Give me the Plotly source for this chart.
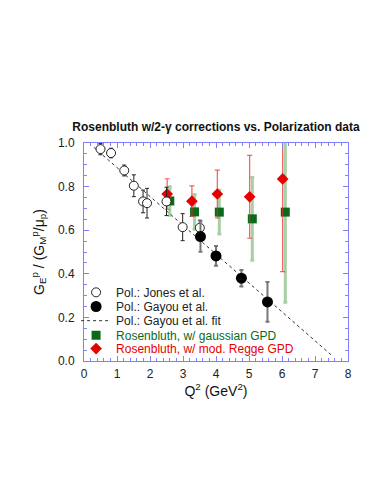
import plotly.graph_objects as go

# ---- data ----
jones_q2 = [0.50, 0.82, 1.22, 1.51, 1.79, 1.91, 2.50, 2.99, 3.51]
jones_ratio = [0.972, 0.954, 0.874, 0.804, 0.732, 0.724, 0.732, 0.614, 0.611]
jones_err = [0.026, 0.022, 0.025, 0.050, 0.052, 0.068, 0.065, 0.062, 0.035]

gayou_q2 = [3.53, 4.00, 4.77, 5.56]
gayou_ratio = [0.571, 0.482, 0.380, 0.271]
gayou_err = [0.070, 0.045, 0.038, 0.091]

fit_q2 = [0.30, 7.55]
fit_ratio = [0.980, 0.020]

gauss_q2 = [2.60, 3.35, 4.10, 5.10, 6.10]
gauss_ratio = [0.734, 0.684, 0.683, 0.652, 0.683]
gauss_err = [0.065, 0.080, 0.100, 0.190, 0.413]

regge_q2 = [2.52, 3.27, 4.04, 5.02, 6.02]
regge_ratio = [0.766, 0.733, 0.766, 0.753, 0.835]
regge_err = [0.070, 0.070, 0.110, 0.190, 0.425]

names = [
    "Pol.: Jones et al.",
    "Pol.: Gayou et al.",
    "Pol.: Gayou et al. fit",
    "<span style='color:#0a6a1a'>Rosenbluth, w/ gaussian GPD</span>",
    "<span style='color:#e60000'>Rosenbluth, w/ mod. Regge GPD</span>",
]

FONT = "Liberation Sans, Arial, sans-serif"
GREEN = "#0a6a1a"
RED = "#e60000"
AXC = "#7f7fff"

fig = go.Figure()

fig.add_trace(go.Scatter(
    x=fit_q2, y=fit_ratio, mode="lines", name=names[2], legend="legend3",
    line=dict(color="#333333", width=1, dash="3px,3px"),
))
fig.add_trace(go.Scatter(
    x=gauss_q2, y=gauss_ratio, mode="markers", name=names[3], legend="legend4",
    marker=dict(symbol="square", size=9, color=GREEN, line=dict(width=0)),
    error_y=dict(type="data", array=gauss_err, color="rgba(60,150,60,0.45)",
                 thickness=3, width=2),
))
fig.add_trace(go.Scatter(
    x=regge_q2, y=regge_ratio, mode="markers", name=names[4], legend="legend5",
    marker=dict(symbol="diamond", size=9, color=RED, line=dict(width=0)),
    error_y=dict(type="data", array=regge_err, color="rgba(235,40,40,0.75)",
                 thickness=1.2, width=2.5),
))
fig.add_trace(go.Scatter(
    x=jones_q2, y=jones_ratio, mode="markers", name=names[0], legend="legend",
    marker=dict(symbol="circle", size=9, color="white", line=dict(color="#222222", width=1)),
    error_y=dict(type="data", array=jones_err, color="#222222", thickness=1, width=2),
))
fig.add_trace(go.Scatter(
    x=gayou_q2, y=gayou_ratio, mode="markers", name=names[1], legend="legend2",
    marker=dict(symbol="circle", size=11, color="black"),
    error_y=dict(type="data", array=gayou_err, color="#777777", thickness=2, width=2),
))

leg_y = [0.315, 0.250, 0.185, 0.118, 0.057]
legends = {}
for i, key in enumerate(["legend", "legend2", "legend3", "legend4", "legend5"]):
    legends[key] = dict(
        x=-0.03, xanchor="left", y=leg_y[i], yanchor="middle",
        bgcolor="rgba(0,0,0,0)", borderwidth=0,
        font=dict(family=FONT, size=12, color="#222222"),
    )

axis_common = dict(
    showline=True, linecolor=AXC, linewidth=1, mirror="allticks",
    ticks="inside", tickcolor=AXC, ticklen=5, tickwidth=1,
    showgrid=False, zeroline=False,
    tickfont=dict(family=FONT, size=12, color="#222222"),
)

fig.update_layout(
    width=374, height=484,
    margin=dict(l=84, r=26, t=143, b=123),
    paper_bgcolor="white", plot_bgcolor="white",
    title=dict(
        text="<b>Rosenbluth w/2-γ corrections vs. Polarization data</b>",
        x=0.5, xref="paper", xanchor="center", y=1 - 127 / 484, yref="container", yanchor="middle",
        font=dict(family=FONT, size=12, color="#111111"),
    ),
    xaxis=dict(
        range=[0, 8], dtick=1, tick0=0,
        minor=dict(dtick=0.2, ticks="inside", ticklen=3, tickcolor=AXC),
        title=dict(text="Q<sup>2</sup> (GeV<sup>2</sup>)", font=dict(family=FONT, size=14, color="#111111"), standoff=0),
        ticklabelstandoff=2,
        **axis_common,
    ),
    yaxis=dict(
        range=[0, 1], dtick=0.2, tick0=0, tickformat=".1f",
        minor=dict(dtick=0.05, ticks="inside", ticklen=3, tickcolor=AXC),
        title=dict(text="G<sub>E</sub><sup>p</sup> / (G<sub>M</sub><sup>p</sup>/μ<sub>p</sub>)",
                   font=dict(family=FONT, size=14, color="#111111"), standoff=10),
        ticklabelstandoff=6,
        **axis_common,
    ),
    showlegend=True,
    **legends,
)

fig.write_html("out.html", config={"displayModeBar": False},
               post_script="document.body.style.margin='0';")
